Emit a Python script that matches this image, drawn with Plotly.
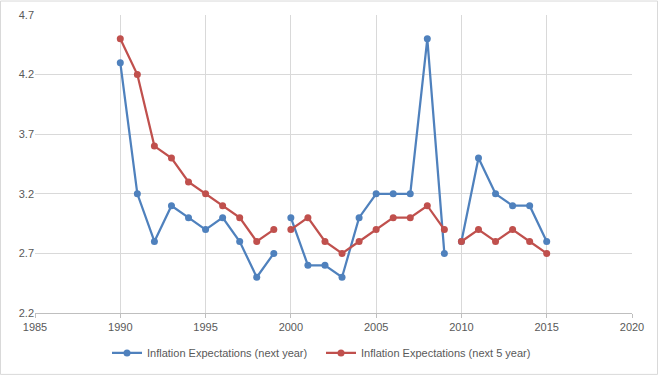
import plotly.graph_objects as go

years = list(range(1990, 2016))
next_year = [4.3, 3.2, 2.8, 3.1, 3.0, 2.9, 3.0, 2.8, 2.5, 2.7,
             3.0, 2.6, 2.6, 2.5, 3.0, 3.2, 3.2, 3.2, 4.5, 2.7,
             2.8, 3.5, 3.2, 3.1, 3.1, 2.8]
next_5_year = [4.5, 4.2, 3.6, 3.5, 3.3, 3.2, 3.1, 3.0, 2.8, 2.9,
               2.9, 3.0, 2.8, 2.7, 2.8, 2.9, 3.0, 3.0, 3.1, 2.9,
               2.8, 2.9, 2.8, 2.9, 2.8, 2.7]
# breaks in the lines (blank rows between these years)
break_after = [1999, 2009]
y_ticks = [2.2, 2.7, 3.2, 3.7, 4.2, 4.7]
x_ticks = [1985, 1990, 1995, 2000, 2005, 2010, 2015, 2020]


def with_gaps(xs, ys):
    ox, oy = [], []
    for x, y in zip(xs, ys):
        ox.append(x)
        oy.append(y)
        if x in break_after:
            ox.append(x + 0.5)
            oy.append(None)
    return ox, oy


fig = go.Figure()
for name, vals, color in [
    ("Inflation Expectations (next year)", next_year, "#4F81BD"),
    ("Inflation Expectations (next 5 year)", next_5_year, "#C0504D"),
]:
    gx, gy = with_gaps(years, vals)
    fig.add_trace(go.Scatter(
        x=gx, y=gy, name=name, mode="lines+markers",
        line=dict(color=color, width=2.25),
        marker=dict(color=color, size=7),
        connectgaps=False,
    ))

font = dict(family="Liberation Sans, Arial, sans-serif", size=11, color="#595959")
fig.update_layout(
    width=658, height=375,
    margin=dict(l=35, r=26, t=14.5, b=62, autoexpand=False),
    paper_bgcolor="white", plot_bgcolor="white",
    font=font,
    showlegend=True,
    legend=dict(orientation="h", x=(321 - 35) / 597, xanchor="center", y=-0.134, yanchor="middle",
                font=font, itemwidth=30, traceorder="normal",
                entrywidth=169, entrywidthmode="pixels"),
    xaxis=dict(range=[1985, 2020], tickvals=x_ticks, showgrid=True, gridcolor="#D9D9D9",
               gridwidth=1, zeroline=False, showline=True, linecolor="#BFBFBF", linewidth=1,
               ticks="outside", ticklen=4, tickcolor="#BFBFBF", tickfont=font,
               automargin=False),
    yaxis=dict(range=[2.2, 4.7], tickvals=y_ticks, tickformat=".1f", showgrid=True,
               gridcolor="#D9D9D9", gridwidth=1, zeroline=False, showline=False,
               ticks="", tickfont=font, automargin=False),
    shapes=[dict(type="rect", xref="paper", yref="paper",
                 x0=(0.5 - 35) / 597, x1=(657.5 - 35) / 597,
                 y0=(313 - 374.5) / 298.5, y1=(313 - 0.5) / 298.5,
                 line=dict(color="#D9D9D9", width=1), layer="below")],
)

fig.write_html("out.html", config={"displayModeBar": False},
               post_script="document.body.style.margin='0';")
